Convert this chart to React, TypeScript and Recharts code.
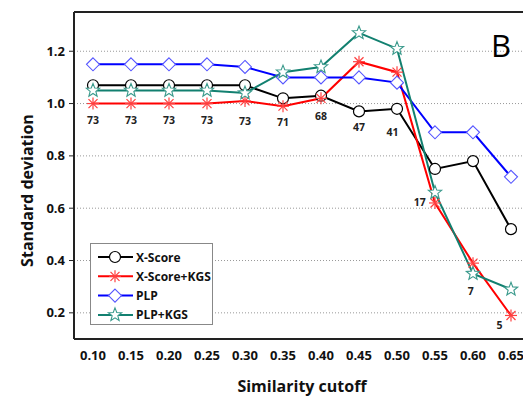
import React from 'react';
import { ComposedChart, Line, Scatter, XAxis, YAxis, CartesianGrid, ReferenceLine } from 'recharts';

const cutoffs = [0.1, 0.15, 0.2, 0.25, 0.3, 0.35, 0.4, 0.45, 0.5, 0.55, 0.6, 0.65];
const xScore = [1.07, 1.07, 1.07, 1.07, 1.07, 1.02, 1.03, 0.97, 0.98, 0.75, 0.78, 0.52];
const xScoreKgs = [1.0, 1.0, 1.0, 1.0, 1.01, 0.99, 1.02, 1.16, 1.12, 0.62, 0.39, 0.19];
const plp = [1.15, 1.15, 1.15, 1.15, 1.14, 1.1, 1.1, 1.1, 1.08, 0.89, 0.89, 0.72];
const plpKgs = [1.05, 1.05, 1.05, 1.05, 1.04, 1.12, 1.14, 1.27, 1.21, 0.66, 0.35, 0.29];

// number of complexes at each cutoff, placed in data units
const counts = ['73', '73', '73', '73', '73', '71', '68', '47', '41', '17', '7', '5'];
const countX = [0.1, 0.15, 0.2, 0.25, 0.3, 0.35, 0.4, 0.45, 0.494, 0.53, 0.597, 0.635];
const countY = [0.936, 0.936, 0.936, 0.936, 0.932, 0.928, 0.951, 0.909, 0.893, 0.625, 0.284, 0.154];

const xTicks = cutoffs;
const yTicks = [0.2, 0.4, 0.6, 0.8, 1.0, 1.2];

const data = cutoffs.map((x, i) => ({
  x,
  xScore: xScore[i],
  xScoreKgs: xScoreKgs[i],
  plp: plp[i],
  plpKgs: plpKgs[i],
}));
const countData = counts.map((n, i) => ({ x: countX[i], y: countY[i], n }));

const FONT = '"Open Sans", "Liberation Sans", sans-serif';

const Circle = ({ cx, cy }: any) => <circle cx={cx} cy={cy} r={5.5} fill="#fff" stroke="#000" strokeWidth={1.2} />;
const Asterisk = ({ cx, cy }: any) => (
  <g stroke="#ff4040" strokeWidth={1.2}>
    <line x1={cx - 6} y1={cy} x2={cx + 6} y2={cy} />
    <line x1={cx} y1={cy - 6} x2={cx} y2={cy + 6} />
    <line x1={cx - 4.5} y1={cy - 4.5} x2={cx + 4.5} y2={cy + 4.5} />
    <line x1={cx - 4.5} y1={cy + 4.5} x2={cx + 4.5} y2={cy - 4.5} />
  </g>
);
const Diamond = ({ cx, cy }: any) => (
  <polygon
    points={`${cx},${cy - 6.5} ${cx + 6.5},${cy} ${cx},${cy + 6.5} ${cx - 6.5},${cy}`}
    fill="#fff"
    stroke="#5555ff"
    strokeWidth={1.1}
  />
);
const Star = ({ cx, cy }: any) => {
  const pts: string[] = [];
  for (let k = 0; k < 10; k++) {
    const r = k % 2 === 0 ? 7 : 3;
    const a = -Math.PI / 2 + (k * Math.PI) / 5;
    pts.push(`${cx + r * Math.cos(a)},${cy + r * Math.sin(a)}`);
  }
  return <polygon points={pts.join(' ')} fill="#fff" stroke="#3a9a8c" strokeWidth={1.1} />;
};

const series = [
  { key: 'xScore', name: 'X-Score', color: '#000000', Marker: Circle },
  { key: 'xScoreKgs', name: 'X-Score+KGS', color: '#ff0000', Marker: Asterisk },
  { key: 'plp', name: 'PLP', color: '#0000ff', Marker: Diamond },
  { key: 'plpKgs', name: 'PLP+KGS', color: '#128070', Marker: Star },
];

const LegendBox = () => (
  <div style={{ position: 'absolute', left: 90, top: 243, width: 123, height: 82, border: '1.5px solid #888', background: '#fff', boxSizing: 'border-box' }}>
    <svg width={120} height={79} style={{ display: 'block' }}>
      {series.map((s, i) => {
        const y = 13 + i * 19.3;
        return (
          <g key={s.key}>
            <line x1={7} y1={y} x2={42} y2={y} stroke={s.color} strokeWidth={2} />
            <s.Marker cx={24} cy={y} />
            <text x={45} y={y} dominantBaseline="central" fontFamily={FONT} fontWeight={700} fontSize={12} fill="#111">
              {s.name}
            </text>
          </g>
        );
      })}
    </svg>
  </div>
);

const YTitle = ({ viewBox }: any) => {
  const x = viewBox.x + 17;
  const y = viewBox.y + viewBox.height / 2 + 15;
  return (
    <text x={x} y={y} transform={`rotate(-90 ${x} ${y})`} textAnchor="middle" dominantBaseline="central"
      fontFamily={FONT} fontWeight={700} fontSize={16} fill="#111">
      Standard deviation
    </text>
  );
};

export default function App() {
  return (
    <div style={{ position: 'absolute', left: 0, top: 0, width: 523, height: 397, overflow: 'hidden', background: '#fff' }}>
      <ComposedChart width={550} height={397} data={data} margin={{ top: 12, right: 20, bottom: 0, left: 10 }}>
        <CartesianGrid vertical={false} stroke="#999" strokeDasharray="1 2" />
        <XAxis
          dataKey="x"
          type="number"
          domain={[0.075, 0.675]}
          ticks={xTicks}
          tickFormatter={(v: number) => v.toFixed(2)}
          tickLine={false}
          tickMargin={6}
          height={58}
          axisLine={{ stroke: '#222', strokeWidth: 2 }}
          tick={{ fontFamily: FONT, fontWeight: 700, fontSize: 13, fill: '#111' }}
          label={{ value: 'Similarity cutoff', position: 'insideBottom', offset: 5, fontFamily: FONT, fontWeight: 700, fontSize: 16, fill: '#111' }}
        />
        <YAxis
          type="number"
          domain={[0.1, 1.35]}
          ticks={yTicks}
          tickFormatter={(v: number) => v.toFixed(1)}
          width={64}
          tickSize={5}
          tickMargin={4}
          tickLine={{ stroke: '#222' }}
          axisLine={{ stroke: '#222', strokeWidth: 2 }}
          tick={{ fontFamily: FONT, fontWeight: 700, fontSize: 13, fill: '#111' }}
          label={<YTitle />}
        />
        <ReferenceLine y={1.35} stroke="#222" strokeWidth={2} />
        <ReferenceLine x={0.675} stroke="#222" strokeWidth={2} />
        {series.map((s) => (
          <Line
            key={s.key}
            type="linear"
            dataKey={s.key}
            name={s.name}
            stroke={s.color}
            strokeWidth={2}
            isAnimationActive={false}
            dot={(p: any) => <s.Marker key={`${s.key}-${p.index}`} cx={p.cx} cy={p.cy} />}
            activeDot={false}
          />
        ))}
        <Scatter
          data={countData}
          dataKey="y"
          isAnimationActive={false}
          legendType="none"
          shape={(p: any) => (
            <text x={p.cx} y={p.cy} textAnchor="middle" dominantBaseline="central" fontFamily={FONT}
              fontWeight={700} fontSize={10.5} fill="#222">
              {p.payload.n}
            </text>
          )}
        />
      </ComposedChart>
      <LegendBox />
      <div style={{ position: 'absolute', left: 491, top: 30, fontFamily: FONT, fontSize: 31, color: '#000', lineHeight: 1 }}>B</div>
    </div>
  );
}
